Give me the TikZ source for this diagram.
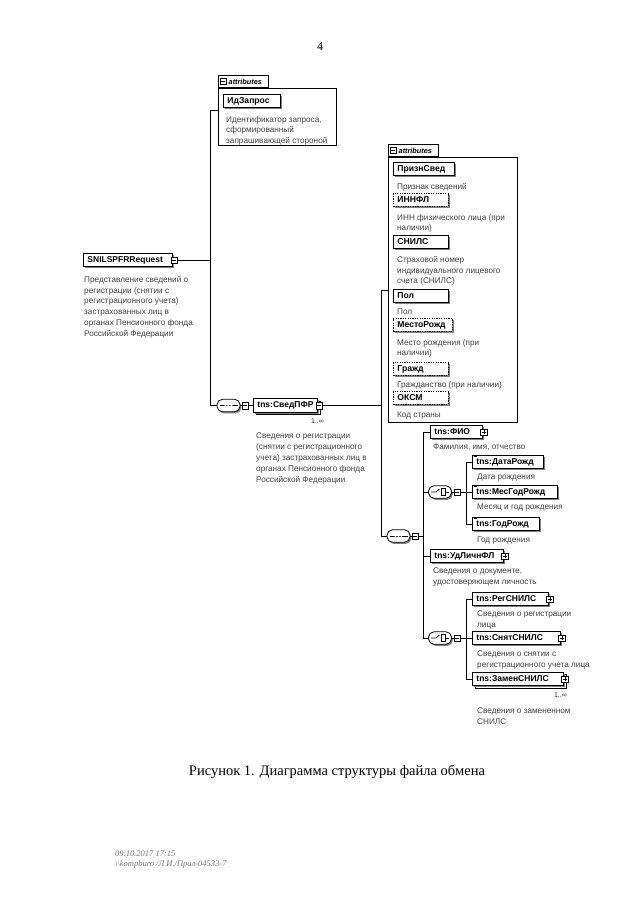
\documentclass[tikz,border=0pt]{standalone}
\usepackage{fontspec}
\setmainfont{Liberation Serif}
\newfontfamily\arialf{Liberation Sans}
\usetikzlibrary{shadows}
\begin{document}
\begin{tikzpicture}[x=1pt,y=-1pt,
  conn/.style={draw=black,line width=0.7pt},
  shd/.style={drop shadow={shadow xshift=1.3pt,shadow yshift=-1.6pt,fill=black!50,opacity=1}},
  elbox/.style={draw=black,line width=0.9pt,fill=white,shd,anchor=west,inner xsep=4pt,inner ysep=0pt,
    minimum height=13.5pt,text height=6.3pt,text depth=1.6pt,align=left,text width=#1,
    font=\arialf\bfseries\fontsize{8.5}{9}\selectfont},
  elboxm/.style={copy shadow={shadow xshift=2.5pt,shadow yshift=-2.5pt,draw=black,fill=white,line width=0.7pt},elbox=#1},
  attreq/.style={draw=black,line width=0.9pt,fill=white,shd,anchor=west,inner xsep=4pt,inner ysep=0pt,
    minimum height=12.5pt,text height=6.3pt,text depth=1.6pt,align=left,text width=#1,
    font=\arialf\bfseries\fontsize{8.6}{9}\selectfont},
  attopt/.style={attreq=#1,dash pattern=on 1.2pt off 1.2pt},
  desc/.style={anchor=north west,inner sep=0pt,align=left,text=black!75,font=\arialf\fontsize{8.2}{10.8}\selectfont},
  mult/.style={inner sep=0pt,font=\arialf\fontsize{7}{7}\selectfont,text=black!80},
  xbox/.style={draw=black,line width=0.5pt,fill=white,minimum size=6.5pt,inner sep=0pt},
  xminus/.style={xbox,path picture={\draw[line width=0.5pt]([xshift=-2pt]path picture bounding box.center)--([xshift=2pt]path picture bounding box.center);}},
  xplus/.style={xbox,path picture={\draw[line width=0.5pt]([xshift=-2pt]path picture bounding box.center)--([xshift=2pt]path picture bounding box.center) ([yshift=-2pt]path picture bounding box.center)--([yshift=2pt]path picture bounding box.center);}},
  comp/.style={draw=black,line width=0.8pt,fill=white,rounded corners=5.5pt,minimum width=23pt,minimum height=12.5pt,inner sep=0pt,shd},
  seqc/.style={comp,path picture={
    \draw[line width=0.7pt,sharp corners]([xshift=-9pt]path picture bounding box.center)--([xshift=9pt]path picture bounding box.center);
    \foreach \dx in {-3,0,3}{\fill([xshift=\dx pt]path picture bounding box.center) circle[radius=1.1pt];}}},
  choicec/.style={comp,path picture={
    \draw[line width=0.7pt,sharp corners]([xshift=-9pt]path picture bounding box.center)--([xshift=-4pt]path picture bounding box.center)--([xshift=-0.5pt,yshift=3pt]path picture bounding box.center);
    \draw[line width=0.6pt,sharp corners]([xshift=1pt,yshift=-3.5pt]path picture bounding box.center) rectangle ([xshift=5.5pt,yshift=3.5pt]path picture bounding box.center);
    \foreach \dy in {-2,0,2}{\fill([xshift=3.25pt,yshift=\dy pt]path picture bounding box.center) circle[radius=0.6pt];}
    \draw[line width=0.7pt,sharp corners]([xshift=5.5pt]path picture bounding box.center)--([xshift=9pt]path picture bounding box.center);}},
  tabbox/.style={draw=black,line width=0.7pt,fill=white,anchor=south west,minimum width=50pt,minimum height=12.5pt,inner sep=0pt},
  tabtxt/.style={anchor=west,inner sep=0pt,font=\arialf\bfseries\itshape\fontsize{7.3}{8}\selectfont},
  abody/.style={draw=black,line width=0.8pt,fill=white,anchor=north west,inner sep=0pt},
  smark/.style={line width=0.9pt}
]
\useasboundingbox (0,0) rectangle (640,905);
\fill[white] (0,0) rectangle (640,905);

\node[font=\fontsize{12}{14}\selectfont] (pnum) at (320,47) {4};

% attributes of root
\node[abody,minimum width=118pt,minimum height=57pt] (ab1) at (218,88) {};
\node[tabbox] (tab1) at (218,88) {};
\node[xminus,minimum size=5.5pt] (tab1x) at ([xshift=5pt]tab1.west) {};
\node[tabtxt] (tab1t) at ([xshift=10.5pt]tab1.west) {attributes};
\node[attreq=49pt] (idz) at (223,101) {ИдЗапрос};
\node[desc] (idzd) at (226,116) {Идентификатор запроса,\\сформированный\\запрашивающей стороной};

% root
\node[elbox=81pt] (root) at (83,260) {SNILSPFRRequest};
\node[xminus] (rootx) at ([xshift=1.5pt]root.east) {};
\node[desc] (rootd) at (84,276) {Представление сведений о\\регистрации (снятии с\\регистрационного учета)\\застрахованных лиц в\\органах Пенсионного фонда\\Российской Федерации};

\coordinate (v1t) at (210,110);
\coordinate (v1b) at (210,405.5);
\node[seqc] (seq1) at (228.5,405.5) {};
\node[xminus] (seq1x) at (245,405.5) {};
\node[elboxm=56pt] (sved) at (253,405.5) {tns:СведПФР};
\node[xminus] (svedx) at ([xshift=1.5pt]sved.east) {};
\node[mult,anchor=east] (svedm) at (324,421) {1..∞};
\node[desc] (svedd) at (256,433) {Сведения о регистрации\\(снятии с регистрационного\\учета) застрахованных лиц в\\органах Пенсионного фонда\\Российской Федерации};

\draw[conn] (rootx.east) -- (rootx.east -| v1t);
\draw[conn] (ab1.west |- v1t) -- (v1t) -- (v1b) -- (seq1.west);
\draw[conn] (seq1.east) -- (seq1x.west);
\draw[conn] (seq1x.east) -- (sved.west);

% attributes of СведПФР
\node[abody,minimum width=129pt,minimum height=265pt] (ab2) at (388,157) {};
\node[tabbox] (tab2) at (388,157) {};
\node[xminus,minimum size=5.5pt] (tab2x) at ([xshift=5pt]tab2.west) {};
\node[tabtxt] (tab2t) at ([xshift=10.5pt]tab2.west) {attributes};
\node[attreq=53pt] (a1) at (393,169) {ПризнСвед};
\node[desc] (a1d) at (397,183) {Признак сведений};
\node[attopt=47pt] (a2) at (393,200) {ИННФЛ};
\node[desc] (a2d) at (397,214) {ИНН физического лица (при\\наличии)};
\node[attreq=47pt] (a3) at (393,242) {СНИЛС};
\node[desc] (a3d) at (397,256) {Страховой номер\\индивидуального лицевого\\счета (СНИЛС)};
\node[attreq=47pt] (a4) at (393,296) {Пол};
\node[desc] (a4d) at (397,309) {Пол};
\node[attopt=51pt] (a5) at (393,325) {МестоРожд};
\node[desc] (a5d) at (397,339) {Место рождения (при\\наличии)};
\node[attopt=47pt] (a6) at (393,369) {Гражд};
\node[desc] (a6d) at (397,381) {Гражданство (при наличии)};
\node[attopt=47pt] (a7) at (393,398) {ОКСМ};
\node[desc] (a7d) at (397,412) {Код страны};

\coordinate (v2t) at (381,290);
\coordinate (v2b) at (381,536);
\node[seqc] (seq2) at (398.5,536) {};
\node[xminus] (seq2x) at (415,536) {};
\draw[conn] (svedx.east) -- (svedx.east -| v2t);
\draw[conn] (ab2.west |- v2t) -- (v2t) -- (v2b) -- (seq2.west);
\draw[conn] (seq2.east) -- (seq2x.west);

% sequence children
\coordinate (v3t) at (423,432);
\coordinate (v3b) at (423,638);
\node[elbox=44pt] (fio) at (430,432) {tns:ФИО};
\node[xplus] (fiox) at ([xshift=1pt]fio.east) {};
\node[desc] (fiod) at (433,444) {Фамилия, имя, отчество};

\node[choicec] (ch1) at (440,492) {};
\node[xminus] (ch1x) at (457,492) {};
\coordinate (v4t) at (466,462);
\coordinate (v4b) at (466,524);
\node[elbox=63pt] (dr) at (472,462) {tns:ДатаРожд};
\node[desc] (drd) at (477,474) {Дата рождения};
\node[elbox=77pt] (mgr) at (472,492) {tns:МесГодРожд};
\node[desc] (mgrd) at (477,504) {Месяц и год рождения};
\node[elbox=59pt] (gr) at (472,524) {tns:ГодРожд};
\node[desc] (grd) at (477,537) {Год рождения};
\draw[smark] ([xshift=1.5pt,yshift=-1.8pt]dr.north west) -- ([xshift=4.5pt,yshift=-1.8pt]dr.north west);
\draw[smark] ([xshift=1.5pt,yshift=-1.8pt]mgr.north west) -- ([xshift=4.5pt,yshift=-1.8pt]mgr.north west);
\draw[smark] ([xshift=1.5pt,yshift=-1.8pt]gr.north west) -- ([xshift=4.5pt,yshift=-1.8pt]gr.north west);

\node[elbox=65pt] (udl) at (430,556) {tns:УдЛичнФЛ};
\node[xplus] (udlx) at ([xshift=1pt]udl.east) {};
\node[desc] (udld) at (433,568) {Сведения о документе,\\удостоверяющем личность};

\node[choicec] (ch2) at (440,638) {};
\node[xminus] (ch2x) at (457,638) {};
\coordinate (v5t) at (466,599);
\coordinate (v5b) at (466,679);
\node[elbox=68pt] (reg) at (472,599) {tns:РегСНИЛС};
\node[xplus] (regx) at ([xshift=1pt]reg.east) {};
\node[desc] (regd) at (477,611) {Сведения о регистрации\\лица};
\node[elbox=80pt] (sn) at (472,638) {tns:СнятСНИЛС};
\node[xplus] (snx) at ([xshift=1pt]sn.east) {};
\node[desc] (snd) at (477,651) {Сведения о снятии с\\регистрационного учета лица};
\node[elboxm=83pt] (zam) at (472,679) {tns:ЗаменСНИЛС};
\node[xplus] (zamx) at ([xshift=1pt]zam.east) {};
\node[mult,anchor=east] (zamm) at (567,695) {1..∞};
\node[desc] (zamd) at (477,708) {Сведения о замененном\\СНИЛС};

\draw[conn] (seq2x.east) -- (seq2x.east -| v3t);
\draw[conn] (fio.west) -- (v3t) -- (v3b) -- (ch2.west);
\draw[conn] (ch1.west) -- (ch1.west -| v3t);
\draw[conn] (udl.west) -- (udl.west -| v3t);
\draw[conn] (ch1.east) -- (ch1x.west);
\draw[conn] (ch1x.east) -- (ch1x.east -| v4t);
\draw[conn] (dr.west) -- (v4t) -- (v4b) -- (gr.west);
\draw[conn] (mgr.west) -- (mgr.west -| v4t);
\draw[conn] (ch2.east) -- (ch2x.west);
\draw[conn] (ch2x.east) -- (ch2x.east -| v5t);
\draw[conn] (reg.west) -- (v5t) -- (v5b) -- (zam.west);
\draw[conn] (sn.west) -- (sn.west -| v5t);

% caption and footer
\node[font=\fontsize{14.5}{17}\selectfont] (cap) at (337,772) {Рисунок 1. Диаграмма структуры файла обмена};
\node[anchor=north west,inner sep=0pt,align=left,text=black!55,font=\itshape\fontsize{8.5}{10}\selectfont] (foot) at (115,851) {09.10.2017 17:15\\\textbackslash\textbackslash kompburo /Л.И./Прил-04533-7};
\end{tikzpicture}
\end{document}
